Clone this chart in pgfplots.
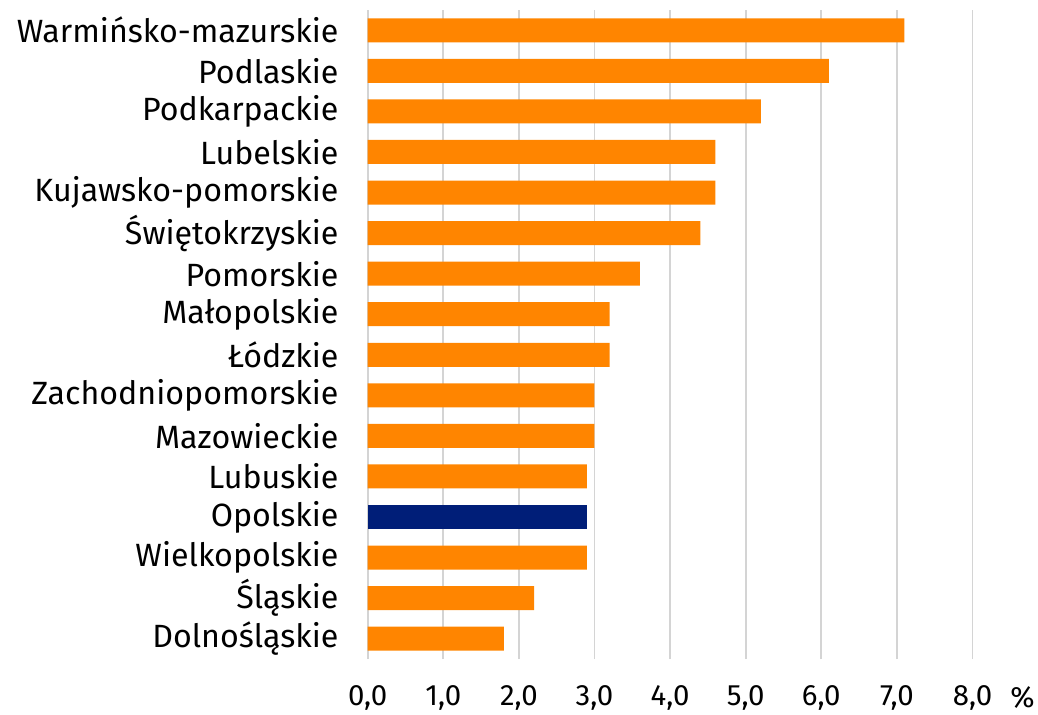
\documentclass[border=0pt]{standalone}
\usepackage{fontspec}
\setmainfont{Fira Sans}
\usepackage{pgfplots}
\pgfplotsset{compat=1.18}
\definecolor{barorange}{RGB}{255,133,0}
\definecolor{barnavy}{RGB}{0,30,120}
\definecolor{gridgray}{RGB}{212,212,212}
\begin{document}
\begin{tikzpicture}
\useasboundingbox (-367.7bp,-56bp) rectangle (670.3bp,659bp);
\begin{axis}[
  at={(0,0)}, anchor=south west,
  scale only axis,
  width=604.8bp, height=649bp,
  xmin=0, xmax=8,
  ymin=-0.5, ymax=15.5,
  xtick={0,1,...,8},
  ytick={0,...,15},
  yticklabels={Dolnośląskie, Śląskie, Wielkopolskie, Opolskie, Lubuskie, Mazowieckie, Zachodniopomorskie, Łódzkie, Małopolskie, Pomorskie, Świętokrzyskie, Kujawsko-pomorskie, Lubelskie, Podkarpackie, Podlaskie, Warmińsko-mazurskie},
  axis line style={draw=none},
  major tick length=0pt,
  xmajorgrids, grid style={gridgray, line width=1.8bp},
  /pgf/number format/.cd, fixed, fixed zerofill, precision=1, use comma, assume math mode=true,
  /pgfplots/.cd,
  xticklabel style={font=\fontsize{29.5}{34}\selectfont, anchor=center, inner sep=0pt, yshift=-39bp},
  yticklabel style={font=\fontsize{32.3}{36}\selectfont, anchor=east, inner sep=0pt, xshift=-29bp},
  xbar, bar width=24bp, bar shift=0pt,
  clip=false,
]
\addplot[fill=barorange, draw=none] coordinates {
 (1.8,0) (2.2,1) (2.9,2) (2.9,4) (3.0,5) (3.0,6) (3.2,7) (3.2,8) (3.6,9) (4.4,10) (4.6,11) (4.6,12) (5.2,13) (6.1,14) (7.1,15)
};
\addplot[fill=barnavy, draw=none] coordinates {(2.9,3)};
\node[font=\fontsize{29.5}{34}\selectfont, anchor=center, inner sep=0pt] at ([xshift=50bp,yshift=-39bp]axis description cs:1,0) {\%};
\end{axis}
\end{tikzpicture}
\end{document}
